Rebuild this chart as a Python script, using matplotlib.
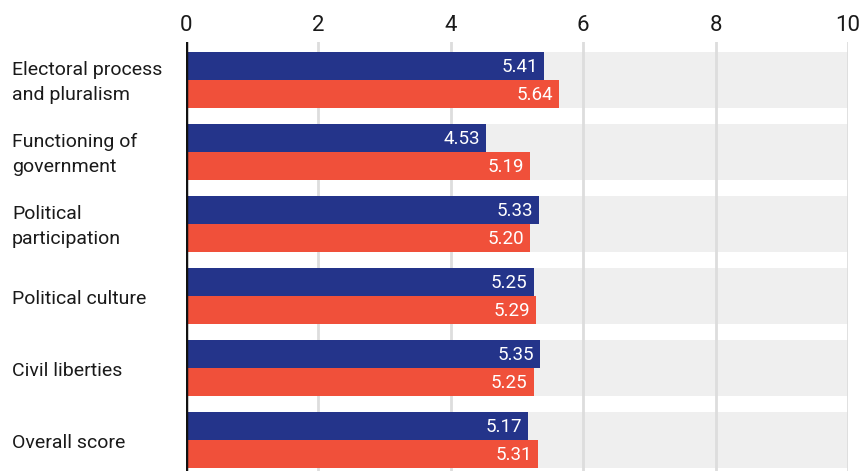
import matplotlib
matplotlib.use("Agg")
import matplotlib.pyplot as plt
import matplotlib.transforms as mtransforms
import numpy as np

plt.rcParams['font.family'] = ['Roboto', 'DejaVu Sans']

categories = ["Electoral process\nand pluralism", "Functioning of\ngovernment",
              "Political\nparticipation", "Political culture", "Civil liberties", "Overall score"]
series_a = [5.41, 4.53, 5.33, 5.25, 5.35, 5.17]
series_b = [5.64, 5.19, 5.20, 5.29, 5.25, 5.31]
xticks = [0, 2, 4, 6, 8, 10]

blue = "#24348a"
red = "#f0503a"
band = "#efefef"
grid = "#dddddd"

fig = plt.figure(figsize=(8.61, 4.71), dpi=100)
ax = fig.add_axes([186/861, 0, (848-186)/861, 1 - 42/471])

n = len(categories)
y = np.arange(n)
bh = 0.389

ax.barh(y, 10, height=2*bh, color=band, zorder=0)
for xt in xticks[1:]:
    ax.axvline(xt, color=grid, lw=2, zorder=1)
ax.barh(y - bh/2, series_a, height=bh, color=blue, zorder=2)
ax.barh(y + bh/2, series_b, height=bh, color=red, zorder=2)
ax.axvline(0, color="#111111", lw=2.5, zorder=3)

trans = mtransforms.blended_transform_factory(fig.transFigure, ax.transData)
for i in range(n):
    ax.text(series_a[i] - 0.09, y[i] - bh/2 + 0.02, f"{series_a[i]:.2f}", color="white",
            ha="right", va="center", fontsize=13.5, zorder=4)
    ax.text(series_b[i] - 0.09, y[i] + bh/2 + 0.02, f"{series_b[i]:.2f}", color="white",
            ha="right", va="center", fontsize=13.5, zorder=4)
    ax.text(12/861, y[i] + 0.04, categories[i], transform=trans,
            ha="left", va="center", fontsize=14, color="#1a1a1a", linespacing=1.5)

ax.set_xlim(0, 10)
ax.set_ylim(n - 1 + 0.43, -0.528)
ax.set_xticks(xticks)
ax.xaxis.tick_top()
ax.tick_params(axis='x', length=0, labelsize=16, pad=4, colors="#1a1a1a")
ax.set_yticks([])
for s in ax.spines.values():
    s.set_visible(False)

fig.savefig("out.png", dpi=100)
